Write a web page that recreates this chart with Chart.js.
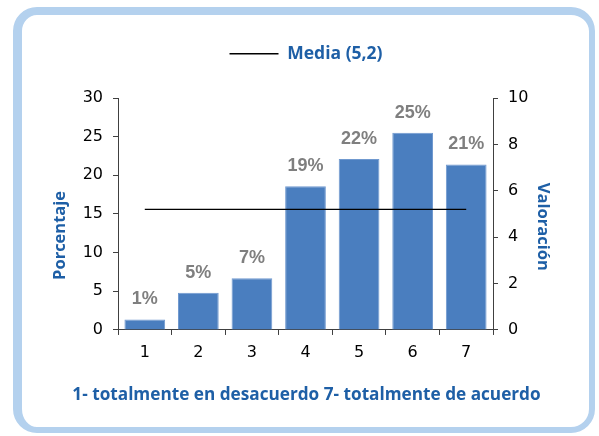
<!DOCTYPE html>
<html>
<head>
<meta charset="utf-8">
<script src="https://cdn.jsdelivr.net/npm/chart.js@4/dist/chart.umd.min.js"></script>
<style>
    html, body { margin: 0; padding: 0; background: #fff; }
    body { width: 599px; height: 436px; position: relative; overflow: hidden; }
    #frame {
        position: absolute; left: 13px; top: 7px; width: 567px; height: 412px;
        border-style: solid; border-color: #b4d1ee;
        border-width: 8px 6px 6px 9px;
        border-radius: 24px; background: #fff;
    }
    #wrap { position: absolute; left: 0; top: 0; width: 599px; height: 436px; }
</style>
</head>
<body>
<div id="frame"></div>
<div id="wrap"><canvas id="chart"></canvas></div>
<script>
// Data
var categories = ['1', '2', '3', '4', '5', '6', '7'];
var percentValues = [1.35, 4.8, 6.7, 18.6, 22.1, 25.5, 21.4];
var percentLabels = ['1%', '5%', '7%', '19%', '22%', '25%', '21%'];
var mediaValues = [5.2, 5.2, 5.2, 5.2, 5.2, 5.2, 5.2];

var blue = '#1e5fa6';
var axisColor = '#404040';
var titleFont = { family: '"Open Sans", sans-serif', size: 16.5, weight: 'bold' };
var tickFont = { family: '"DejaVu Sans", sans-serif', size: 16 };

// labels above each bar
var barLabels = {
    id: 'barLabels',
    afterDatasetsDraw: function(chart) {
        var meta = chart.getDatasetMeta(1);
        var ctx = chart.ctx;
        ctx.save();
        ctx.font = 'bold 18px "Liberation Sans", Arial, sans-serif';
        ctx.fillStyle = '#7f7f7f';
        ctx.textAlign = 'center';
        ctx.textBaseline = 'middle';
        meta.data.forEach(function(bar, i) {
            ctx.fillText(percentLabels[i], bar.x, bar.y - 20);
        });
        ctx.restore();
    }
};

// legend: more room below it; legend and bottom title a little right of centre
var layoutTweak = {
    id: 'layoutTweak',
    afterInit: function(chart) {
        var fit = chart.legend.fit;
        chart.legend.fit = function() {
            fit.call(this);
            this.height += 25.5;
        };
    },
    afterLayout: function(chart) {
        chart.legend.left += 9;
        chart.titleBlock.left += 10;
    }
};

new Chart(document.getElementById('chart').getContext('2d'), {
    data: {
        labels: categories,
        datasets: [{
            type: 'line',
            label: 'Media (5,2)',
            data: mediaValues,
            yAxisID: 'y1',
            borderColor: '#000',
            borderWidth: 1.2,
            pointRadius: 0,
            fill: false
        }, {
            type: 'bar',
            label: 'Porcentaje',
            data: percentValues,
            yAxisID: 'y',
            backgroundColor: '#4a7ebf',
            borderColor: '#7099cf',
            borderWidth: 1,
            barPercentage: 0.76,
            categoryPercentage: 1
        }]
    },
    options: {
        responsive: true,
        maintainAspectRatio: false,
        animation: false,
        layout: { padding: { left: 40, right: 36, top: 9, bottom: 30 } },
        plugins: {
            tooltip: { enabled: false },
            title: {
                display: true,
                position: 'bottom',
                text: '1- totalmente en desacuerdo 7- totalmente de acuerdo',
                color: blue,
                font: { family: '"Open Sans", sans-serif', size: 17.2, weight: 'bold' },
                padding: { top: 0, bottom: 1 }
            },
            legend: {
                position: 'top',
                labels: {
                    color: blue,
                    font: { family: '"Open Sans", sans-serif', size: 17.5, weight: 'bold' },
                    boxWidth: 49,
                    boxHeight: 1.5,
                    padding: 36,
                    generateLabels: function(chart) {
                        return [{
                            text: 'Media (5,2)',
                            fillStyle: '#000',
                            strokeStyle: '#000',
                            lineWidth: 0,
                            fontColor: blue,
                            datasetIndex: 0
                        }];
                    }
                }
            }
        },
        scales: {
            x: {
                offset: true,
                grid: { display: true, drawOnChartArea: false, tickLength: 5, color: axisColor },
                border: { color: axisColor },
                ticks: { color: '#000', font: tickFont, padding: 8 },
                afterFit: function(s) { s.height = 54.4; }
            },
            y: {
                position: 'left',
                min: 0,
                max: 30,
                ticks: { stepSize: 5, color: '#000', font: tickFont, padding: 10 },
                grid: { drawOnChartArea: false, tickLength: 5, color: axisColor },
                border: { color: axisColor },
                title: {
                    display: true,
                    // trailing spaces move the title down, as in the original
                    text: 'Porcentaje          ',
                    color: blue,
                    font: titleFont,
                    padding: { top: 10, bottom: 0 }
                },
                afterFit: function(s) { s.width = 78; }
            },
            y1: {
                position: 'right',
                min: 0,
                max: 10,
                ticks: { stepSize: 2, color: '#000', font: tickFont, padding: 10 },
                grid: { drawOnChartArea: false, tickLength: 5, color: axisColor },
                border: { color: axisColor },
                title: {
                    display: true,
                    text: '      Valoración',
                    color: blue,
                    font: titleFont,
                    padding: { top: 10, bottom: 0 }
                },
                afterFit: function(s) { s.width = 70; }
            }
        }
    },
    plugins: [barLabels, layoutTweak]
});
</script>
</body>
</html>
